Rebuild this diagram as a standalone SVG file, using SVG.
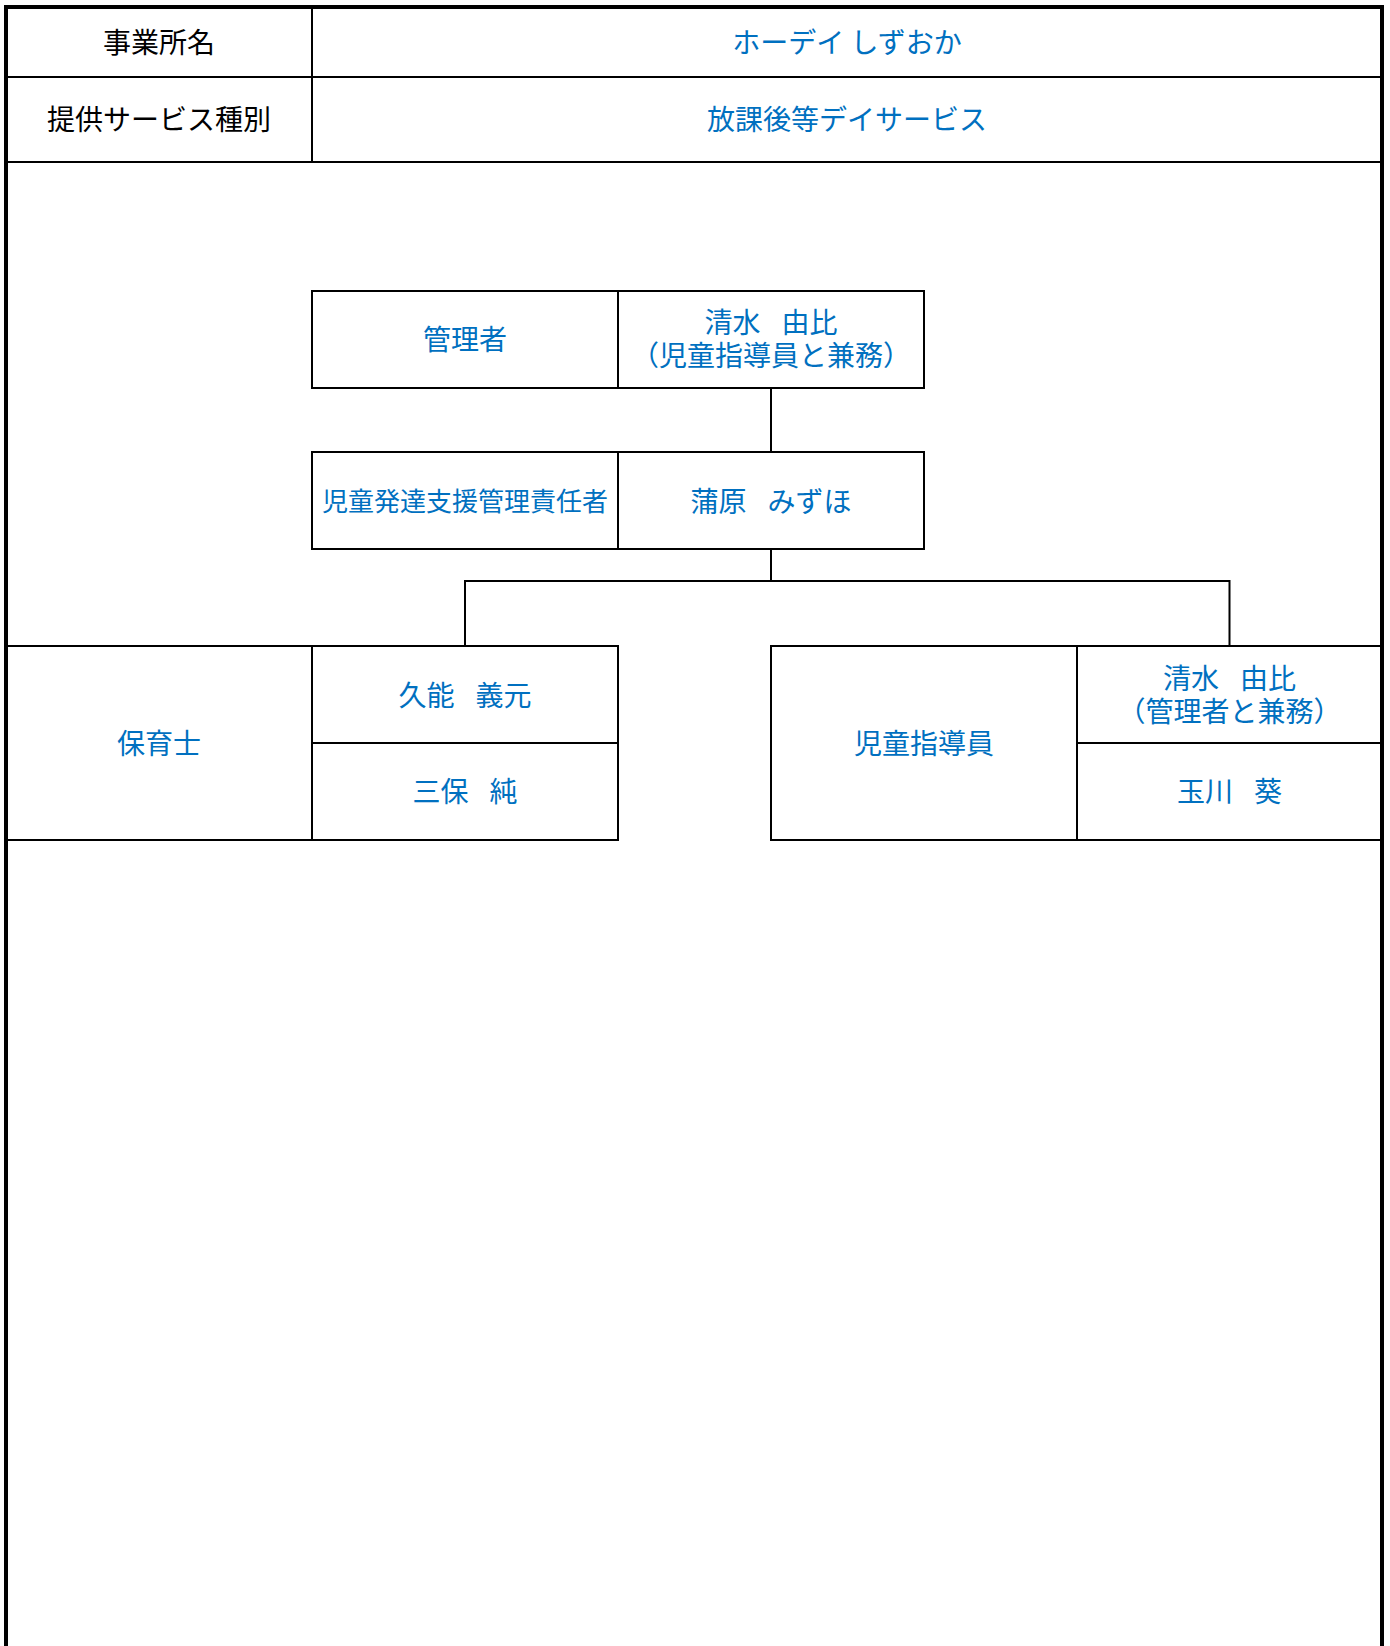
<svg xmlns="http://www.w3.org/2000/svg" width="1390" height="1646" viewBox="0 0 1390 1646">
<style>
  .t { font-family: "Noto Sans CJK JP", "Noto Sans", sans-serif; font-size: 28px; text-anchor: middle; dominant-baseline: central; }
  .k { fill: #000000; }
  .b { fill: #0070C0; }
  .sp { font-size: 21px; }
  .ln { stroke: #000000; stroke-width: 2; fill: none; }
  .box { stroke: #000000; stroke-width: 2; fill: #ffffff; }
  .outer { stroke: #000000; stroke-width: 4; fill: none; }
</style>
<rect x="0" y="0" width="1390" height="1646" fill="#ffffff"/>

<g id="header">
  <line class="ln" x1="6" y1="77" x2="1382" y2="77"/>
  <line class="ln" x1="6" y1="162" x2="1382" y2="162"/>
  <line class="ln" x1="312" y1="7" x2="312" y2="162"/>
  <text class="t k" x="159" y="41">事業所名</text>
  <text class="t k" x="159" y="118">提供サービス種別</text>
  <text class="t b" x="847" y="41">ホーデイ しずおか</text>
  <text class="t b" x="847" y="118">放課後等デイサービス</text>
</g>

<g id="connectors">
  <line class="ln" x1="771" y1="388" x2="771" y2="452"/>
  <polyline class="ln" points="771,549 771,581"/>
  <polyline class="ln" points="465,646 465,581 1229.5,581 1229.5,646"/>
</g>

<g id="node-manager">
  <rect class="box" x="312" y="291" width="306" height="97"/>
  <rect class="box" x="618" y="291" width="306" height="97"/>
  <text class="t b" x="465" y="337.5">管理者</text>
  <text class="t b" x="771" y="321">清水<tspan class="sp">　</tspan>由比</text>
  <text class="t b" x="771" y="354">（児童指導員と兼務）</text>
</g>

<g id="node-jihatsukan">
  <rect class="box" x="312" y="452" width="306" height="97"/>
  <rect class="box" x="618" y="452" width="306" height="97"/>
  <text class="t b" x="465" y="499.5" style="font-size:26px">児童発達支援管理責任者</text>
  <text class="t b" x="771" y="499.5">蒲原<tspan class="sp">　</tspan>みずほ</text>
</g>

<g id="node-hoikushi">
  <rect class="box" x="6" y="646" width="306" height="194"/>
  <rect class="box" x="312" y="646" width="306" height="97"/>
  <rect class="box" x="312" y="743" width="306" height="97"/>
  <text class="t b" x="159" y="741.5">保育士</text>
  <text class="t b" x="465" y="693.5">久能<tspan class="sp">　</tspan>義元</text>
  <text class="t b" x="465" y="789.5">三保<tspan class="sp">　</tspan>純</text>
</g>

<g id="node-jidoshidoin">
  <rect class="box" x="771" y="646" width="306" height="194"/>
  <rect class="box" x="1077" y="646" width="305" height="97"/>
  <rect class="box" x="1077" y="743" width="305" height="97"/>
  <text class="t b" x="924" y="741.5">児童指導員</text>
  <text class="t b" x="1229.5" y="677">清水<tspan class="sp">　</tspan>由比</text>
  <text class="t b" x="1229.5" y="710">（管理者と兼務）</text>
  <text class="t b" x="1229.5" y="789.5">玉川<tspan class="sp">　</tspan>葵</text>
</g>

<g id="frame">
  <line class="outer" x1="4" y1="7" x2="1384" y2="7"/>
  <line class="outer" x1="6" y1="5" x2="6" y2="1646"/>
  <line class="outer" x1="1382" y1="5" x2="1382" y2="1646"/>
</g>
</svg>
